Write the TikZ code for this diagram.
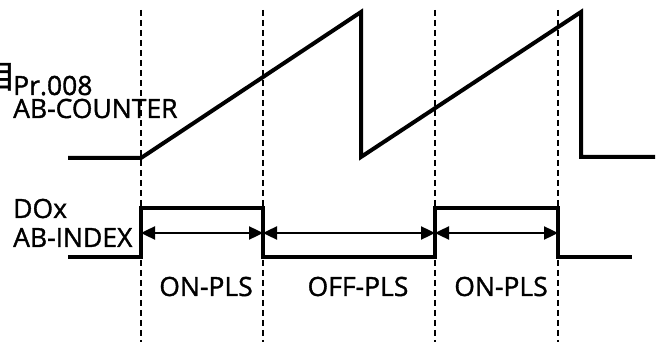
\documentclass[tikz,border=0pt]{standalone}
\usepackage{fontspec}
\setmainfont[FakeBold=1.3]{Open Sans}
\newfontfamily\cjkfont[FakeBold=1.3]{Noto Sans CJK JP}
\usetikzlibrary{arrows.meta}

\begin{document}
\begin{tikzpicture}[x=1pt,y=-1pt,>={Triangle[length=14pt,width=13pt]},
  sig/.style={line width=4pt,line join=miter},
  span/.style={<->,line width=2.4pt},
  guide/.style={line width=1.5pt,dash pattern=on 6pt off 4pt},
  lbl/.style={font=\fontsize{26.5}{30}\selectfont,inner sep=0pt}]
  \useasboundingbox (0,0) rectangle (665,342);

  % guide lines
  \foreach \x in {141,263,435,558}
    \draw[guide] (\x,10) -- (\x,342);

  % counter
  \draw[sig] (68,158) -- (141,158) -- (361,12) -- (361,157)
    -- (581,12) -- (581,157) -- (655,157);

  % index output
  \draw[sig] (68,257) -- (141,257) -- (141,208) -- (263,208) -- (263,257)
    -- (435,257) -- (435,208) -- (558,208) -- (558,257) -- (632,257);

  % pulse widths
  \coordinate (e1) at (141,233);
  \coordinate (e2) at (263,233);
  \coordinate (e3) at (435,233);
  \coordinate (e4) at (558,233);
  \draw[span] (e1) -- (e2);
  \draw[span] (e2) -- (e3);
  \draw[span] (e3) -- (e4);

  % signal names
  \node[lbl,font=\fontsize{32}{34}\selectfont,anchor=base east] (cut) at (16,88) {\cjkfont 目};
  \node[lbl,anchor=base west] (pr) at (13,95) {Pr.008};
  \node[lbl,anchor=base west] (cnt) at (13,118) {AB-COUNTER};
  \node[lbl,anchor=base west] (dox) at (13,218) {DOx};
  \node[lbl,anchor=base west] (idx) at (13,247) {AB-INDEX};

  % widths
  \node[lbl,anchor=base] (on1) at (206,296) {ON-PLS};
  \node[lbl,anchor=base] (off) at (358,296) {OFF-PLS};
  \node[lbl,anchor=base] (on2) at (501,296) {ON-PLS};
\end{tikzpicture}
\end{document}
